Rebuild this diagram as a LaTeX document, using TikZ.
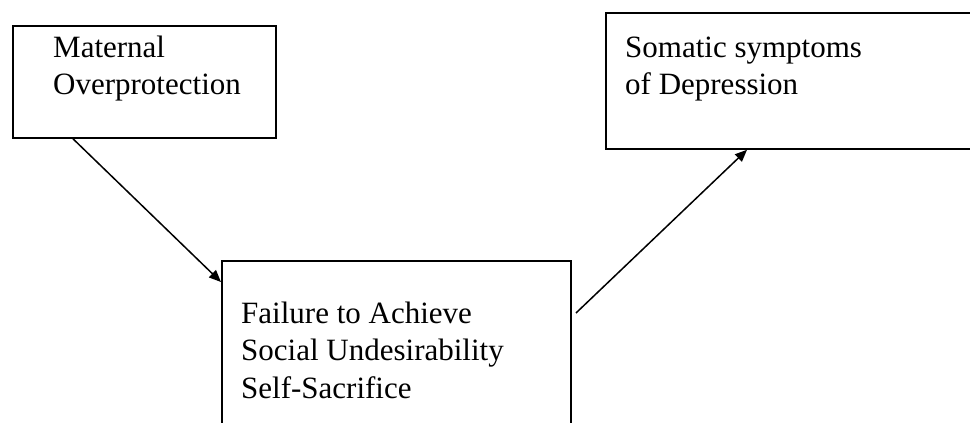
\documentclass[tikz,border=0pt]{standalone}
\usepackage{fontspec}
\setmainfont{Liberation Serif}
\usetikzlibrary{arrows.meta}
\begin{document}
\begin{tikzpicture}[x=1pt,y=-1pt,
  box/.style={draw, line width=1.8pt, rectangle, inner sep=0pt, anchor=north west},
  lbl/.style={inner sep=0pt, anchor=base west, font=\fontsize{31}{37.5}\selectfont},
  conn/.style={line width=1.5pt, -{Triangle[length=12pt,width=10pt]}}]
\useasboundingbox (0,0) rectangle (970,423);
\clip (0,0) rectangle (970,423);
\node[box, minimum width=263pt, minimum height=112pt] (m) at (12,25) {};
\node[box, minimum width=349pt, minimum height=220pt] (f) at (221,260) {};
\node[box, minimum width=400pt, minimum height=136pt] (s) at (605,12) {};
\node[lbl] (tm) at (53,57) {\vtop{\hbox{Maternal}\hbox{Overprotection}}};
\node[lbl] (tf) at (241,323) {\vtop{\hbox{Failure to Achieve}\hbox{Social Undesirability}\hbox{Self-Sacrifice}}};
\node[lbl] (ts) at (625,57) {\vtop{\hbox{Somatic symptoms}\hbox{of Depression}}};
\draw[conn] ([xshift=61pt]m.south west) -- ([yshift=-22pt]f.north west);
\coordinate (a2) at (576,313);
\draw[conn] (a2) -- ([xshift=142pt]s.south west);
\end{tikzpicture}
\end{document}
